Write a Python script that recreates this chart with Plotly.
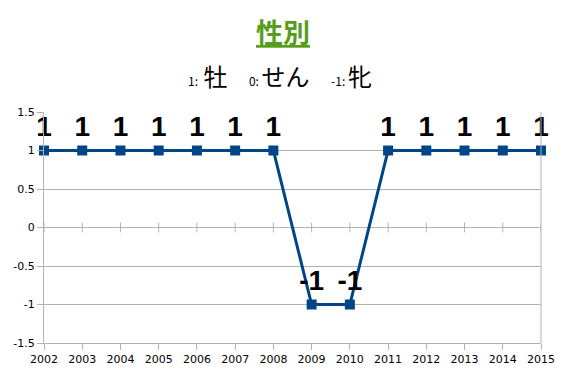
import plotly.graph_objects as go

years = list(range(2002, 2016))
values = [1, 1, 1, 1, 1, 1, 1, -1, -1, 1, 1, 1, 1, 1]
labels = [str(v) for v in values]
title_text = "性別"
subtitle_text = ("<span style='font-size:12px'>1:&nbsp;&nbsp;</span>牡&nbsp;&nbsp;&nbsp;&nbsp;"
                 "<span style='font-size:12px'>0:&nbsp;</span>せん&nbsp;&nbsp;&nbsp;&nbsp;"
                 "<span style='font-size:12px'>-1:&nbsp;</span>牝")
yticks = [1.5, 1, 0.5, 0, -0.5, -1, -1.5]

fig = go.Figure()
# minor ticks at the zero line
fig.add_trace(go.Scatter(
    x=years, y=[0] * len(years), mode="markers",
    marker=dict(symbol="line-ns", size=7, line=dict(color="#b3b3b3", width=1)),
    hoverinfo="skip", showlegend=False))
fig.add_trace(go.Scatter(
    x=years, y=values, mode="lines+markers+text",
    line=dict(color="#004586", width=3),
    marker=dict(symbol="square", size=10, color="#004586"),
    text=labels, textposition="top center",
    textfont=dict(family="Liberation Sans", size=28, color="black", weight="bold"),
    cliponaxis=False, showlegend=False))

fig.update_layout(
    width=567, height=378,
    margin=dict(l=44, r=25, t=112, b=32),
    paper_bgcolor="white", plot_bgcolor="white",
    font=dict(family="DejaVu Sans", color="black"),
    annotations=[
        dict(text="<b><u>" + title_text + "</u></b>", xref="paper", yref="paper",
             x=0.481, y=1, yshift=81, xanchor="center", yanchor="middle",
             showarrow=False, font=dict(size=27, color="#579d1c", family="Noto Sans CJK JP")),
        dict(text=subtitle_text, xref="paper", yref="paper",
             x=0.475, y=1, yshift=37, xanchor="center", yanchor="middle",
             showarrow=False, font=dict(size=24, color="black", family="Noto Sans CJK JP")),
    ],
)
fig.update_xaxes(
    range=[2002, 2015], tickmode="array", tickvals=years, ticktext=[str(y) for y in years],
    showgrid=False, showline=True, linecolor="#b3b3b3", mirror=False,
    ticks="outside", ticklen=6, tickcolor="#b3b3b3",
    tickfont=dict(size=11, family="DejaVu Sans"), zeroline=False)
fig.update_yaxes(
    range=[-1.5, 1.5], tickmode="array", tickvals=yticks, ticktext=[str(v) for v in yticks],
    showgrid=True, gridcolor="#b3b3b3", showline=True, linecolor="#b3b3b3",
    ticks="outside", ticklen=6, tickcolor="#b3b3b3",
    tickfont=dict(size=11, family="DejaVu Sans"), zeroline=False)
# right border
fig.add_shape(type="line", xref="paper", yref="paper", x0=1, x1=1, y0=0, y1=1,
              line=dict(color="#b3b3b3", width=1))

fig.write_html("out.html")
